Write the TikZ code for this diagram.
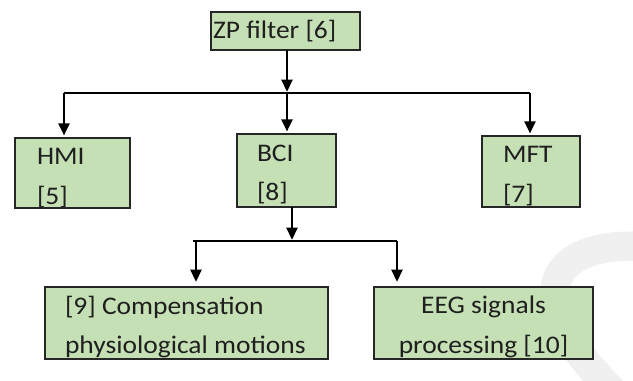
\documentclass[tikz,border=0pt]{standalone}
\usepackage{fontspec}
\setmainfont[FakeStretch=1.085]{Carlito}
\usetikzlibrary{arrows.meta,calc}
\definecolor{boxfill}{RGB}{197,224,180}
\definecolor{wmark}{RGB}{240,240,240}
\begin{document}
\begin{tikzpicture}[x=0.75pt,y=-0.75pt,
  box/.style={draw=black!85, line width=0.9pt, fill=boxfill, rectangle,
              anchor=north west, inner sep=0pt, outer sep=0pt},
  lbl/.style={font=\fontsize{19pt}{30pt}\selectfont, text=black!88,
              inner sep=0pt, minimum width=0pt, minimum height=0pt,
              anchor=base west},
  arr/.style={line width=1.1pt, shorten >=2pt,
              -{Triangle[width=8.5pt,length=9pt]}},
  bus/.style={line width=1.1pt}]
\useasboundingbox (0,0) rectangle (633,381);

% faint curved band in the lower right corner
\begin{scope}
  \clip (0,0) rectangle (633,381);
  \draw[wmark, line width=22pt] (660,248) .. controls (555,235) and (505,290) .. (622,400);
\end{scope}

% boxes (text is clipped to each box)
\node[box, minimum width=111.75pt, minimum height=28.5pt,
  path picture={\node[lbl] (zpt) at ([shift={(2,27)}]path picture bounding box.north west) {ZP filter [6]};}]
  (zp) at (211,12) {};

\node[box, minimum width=86.25pt, minimum height=52.5pt,
  path picture={
    \node[lbl] (hmit1) at ([shift={(22,27)}]path picture bounding box.north west) {HMI};
    \node[lbl] (hmit2) at ([shift={(22,67)}]path picture bounding box.north west) {[5]};}]
  (hmi) at (15,138) {};

\node[box, minimum width=74.25pt, minimum height=54.75pt,
  path picture={
    \node[lbl] (bcit1) at ([shift={(20,28)}]path picture bounding box.north west) {BCI};
    \node[lbl] (bcit2) at ([shift={(20,67)}]path picture bounding box.north west) {[8]};}]
  (bci) at (237,134) {};

\node[box, minimum width=73.5pt, minimum height=53.25pt,
  path picture={
    \node[lbl] (mftt1) at ([shift={(21,27)}]path picture bounding box.north west) {MFT};
    \node[lbl] (mftt2) at ([shift={(21,67)}]path picture bounding box.north west) {[7]};}]
  (mft) at (482,136) {};

\node[box, minimum width=212.25pt, minimum height=54pt,
  path picture={
    \node[lbl] (compt1) at ([shift={(20,28)}]path picture bounding box.north west) {[9] Compensation};
    \node[lbl] (compt2) at ([shift={(20,67)}]path picture bounding box.north west) {physiological motions};}]
  (comp) at (45,287) {};

\node[box, minimum width=164.25pt, minimum height=54pt,
  path picture={
    \node[lbl, anchor=base] (eegt1) at ([shift={(109.5,27)}]path picture bounding box.north west) {EEG signals};
    \node[lbl, anchor=base] (eegt2) at ([shift={(109.5,67)}]path picture bounding box.north west) {processing [10]};}]
  (eeg) at (374,287) {};

% junction points of the two buses
\coordinate (busL) at (64,93);
\coordinate (busM) at (287,93);
\coordinate (busR) at (530,93);
\coordinate (bus2L) at (193,241);
\coordinate (drop2L) at (196,241);
\coordinate (bus2M) at (292,241);
\coordinate (bus2R) at (397,241);

% first level
\draw[arr, shorten >=1pt] (busM |- zp.south) -- (busM);
\draw[bus] (busL) -- (busR);
\draw[arr] (busL) -- (busL |- hmi.north);
\draw[arr] (busM) -- (busM |- bci.north);
\draw[arr] (busR) -- (busR |- mft.north);

% second level
\draw[arr, shorten >=1pt] (bus2M |- bci.south) -- (bus2M);
\draw[bus] (bus2L) -- (bus2R);
\draw[arr, shorten >=4pt] (drop2L) -- (drop2L |- comp.north);
\draw[arr, shorten >=4pt] (bus2R) -- (bus2R |- eeg.north);
\end{tikzpicture}
\end{document}
